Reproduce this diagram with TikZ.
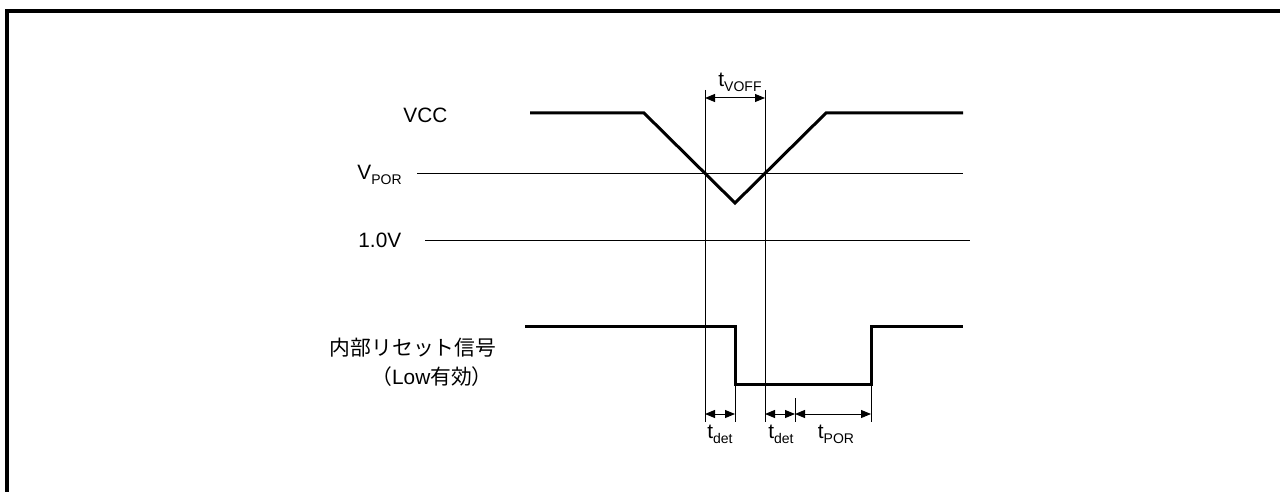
\documentclass[tikz,border=0pt]{standalone}
\usepackage{fontspec}
\setmainfont{Liberation Sans}
\newfontfamily\jpfont{Noto Sans CJK JP}
\usetikzlibrary{arrows.meta,calc}
\newcommand{\subtx}[1]{\raisebox{-0.45ex}{\fontsize{7}{8}\selectfont #1}}

\begin{document}
\begin{tikzpicture}[x=0.5pt,y=-0.5pt,>={Triangle[length=5pt,width=4pt]},
  sig/.style={line width=1.5pt},
  ref/.style={line width=0.5pt},
  dim/.style={<->,line width=0.5pt},
  lbl/.style={font=\fontsize{10.4}{12}\selectfont,inner sep=0pt}]
\useasboundingbox (0,0) rectangle (1280,492);
\coordinate (F0) at (7,492);\coordinate (F1) at (7,11);\coordinate (F2) at (1280,11);
\draw[line width=1.6pt] (F0)--(F1)--(F2);
% levels
\coordinate (P0) at (417,174);\coordinate (P1) at (963,174);
\coordinate (L0) at (425,240);\coordinate (L1) at (970,240);
\draw[ref] (P0)--(P1);
\draw[ref] (L0)--(L1);
\node[lbl,anchor=west] (vcc) at (403,115) {VCC};
\node[lbl,anchor=west] (vpor) at (357,175) {V\subtx{POR}};
\node[lbl,anchor=west] (one) at (358,240) {1.0V};
% VCC waveform
\coordinate (V0) at (530,113);\coordinate (V1) at (644,113);
\coordinate (Vb) at (735,203);
\coordinate (V2) at (826,113);\coordinate (V3) at (963,113);
\draw[sig] (V0)--(V1)--(Vb)--(V2)--(V3);
% internal reset
\coordinate (R0) at (525,326);\coordinate (R1) at (735,326);
\coordinate (R2) at (735,384);\coordinate (R3) at (871,384);
\coordinate (R4) at (871,326);\coordinate (R5) at (963,326);
\draw[sig] (R0)--(R1)--(R2)--(R3)--(R4)--(R5);
\node[lbl] (rst) at (413,348) {\jpfont 内部リセット信号};
\node[lbl] (rstlow) at (432,377) {{\jpfont （}Low{\jpfont 有効）}};
% timing marks
\coordinate (A) at (705,90);\coordinate (B) at (765,90);
\coordinate (A1) at (705,422);\coordinate (B1) at (765,422);
\coordinate (R2b) at (735,422);\coordinate (R3b) at (871,422);
\coordinate (C0) at (795,398);\coordinate (C1) at (795,422);
\draw[ref] (A)--(A1);
\draw[ref] (B)--(B1);
\draw[ref] (R2)--(R2b);
\draw[ref] (R3)--(R3b);
\draw[ref] (C0)--(C1);
\draw[dim] ($(A)+(0,8)$)--($(B)+(0,8)$);
\node[lbl] (toff) at (740,82) {t\subtx{VOFF}};
\draw[dim] ($(A1)+(0,-8)$)--($(R2b)+(0,-8)$);
\draw[dim] ($(B1)+(0,-8)$)--($(C1)+(0,-8)$);
\draw[dim] ($(C1)+(0,-8)$)--($(R3b)+(0,-8)$);
\node[lbl] (tdet1) at (720,434) {t\subtx{det}};
\node[lbl] (tdet2) at (781,434) {t\subtx{det}};
\node[lbl] (tpor) at (836,434) {t\subtx{POR}};
\end{tikzpicture}
\end{document}
